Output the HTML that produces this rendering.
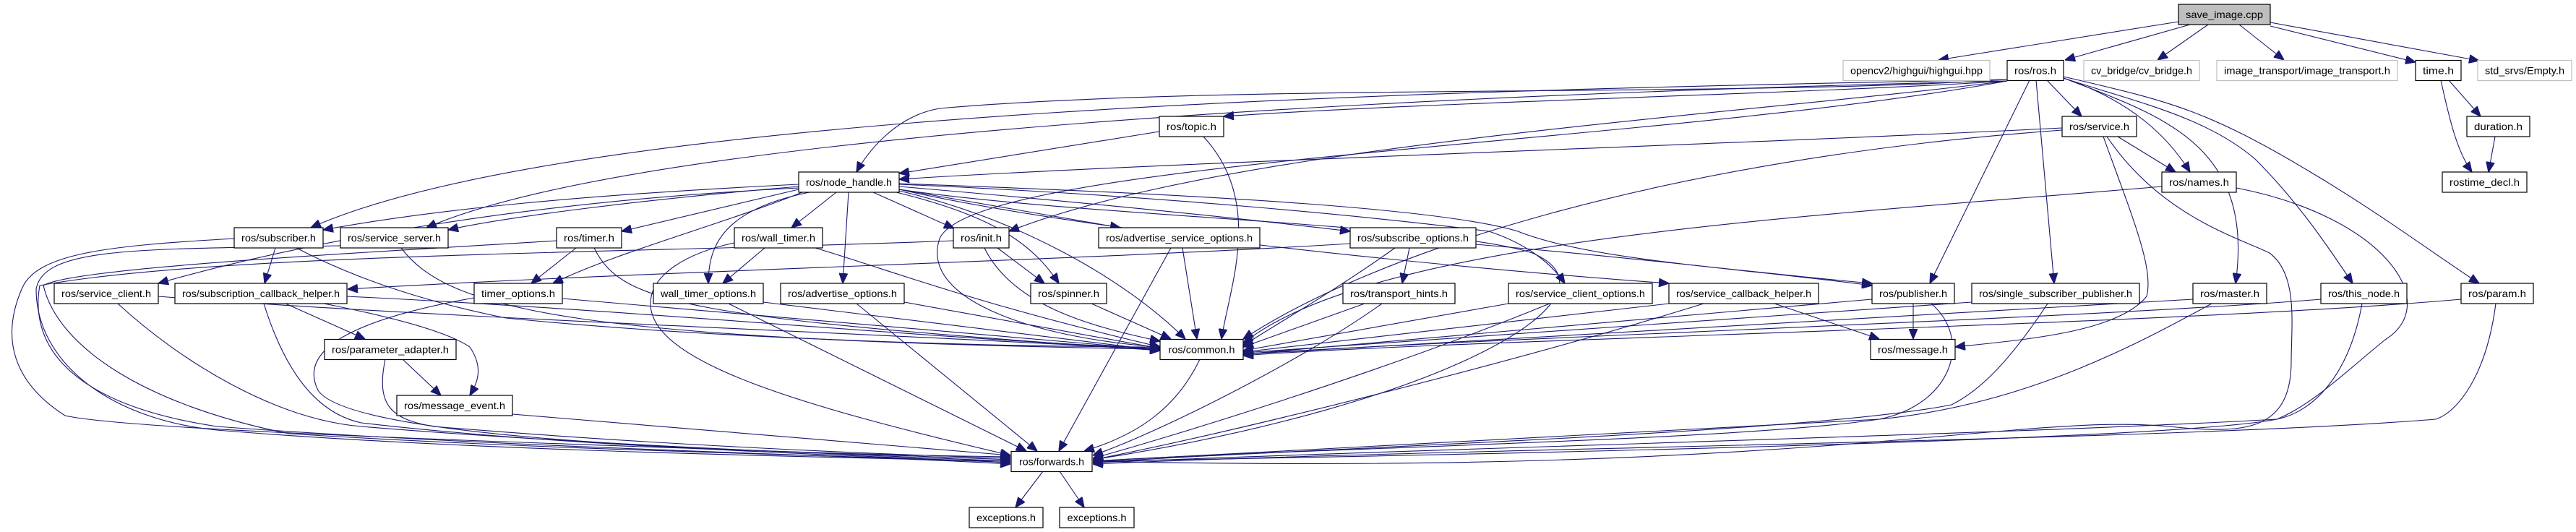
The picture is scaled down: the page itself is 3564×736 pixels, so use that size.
<!DOCTYPE html>
<html><head><meta charset="utf-8"><style>
html,body{margin:0;padding:0;background:#fff;}
svg{display:block;}
text{font-family:"Liberation Sans","DejaVu Sans",sans-serif;font-size:14px;fill:#000;}
.n rect{fill:#fff;stroke:#000;stroke-width:1.2;}
.g rect{fill:#fff;stroke:#bfbfbf;stroke-width:1.2;}
.r rect{fill:#bfbfbf;stroke:#000;stroke-width:1.2;}
path{fill:none;stroke:#191970;stroke-width:1.1;}
</style></head><body>
<svg width="3564" height="736" viewBox="0 0 3564 736" xmlns="http://www.w3.org/2000/svg">
<defs><marker id="a" markerUnits="userSpaceOnUse" markerWidth="14" markerHeight="12" refX="12" refY="5" orient="auto" viewBox="0 0 12 10"><path d="M0,0 L12,5 L0,10 Z" style="fill:#191970;stroke:#191970"/></marker></defs>
<g marker-end="url(#a)">
<path d="M3014,30 L2682,83"/>
<path d="M3030,34 L2857,83"/>
<path d="M3055,34 L2985,83"/>
<path d="M3098,34 L3160,83"/>
<path d="M3141,36 L3342,86"/>
<path d="M3141,31 L3430,84"/>
<path d="M3388,111 L3432,161"/>
<path d="M3377,111 C3390,170 3400,210 3420,238"/>
<path d="M3452,189 L3443,238"/>
<path d="M2832,111 L2880,161"/>
<path d="M2855,108 C2950,140 3000,190 3030,238"/>
<path d="M2817,111 L2842,392"/>
<path d="M2855,108 C2990,160 3120,200 3093,392"/>
<path d="M2855,108 C2950,140 3050,160 3120,220 C3180,280 3220,340 3255,392"/>
<path d="M2855,106 C3000,140 3050,150 3200,240 C3300,300 3380,360 3430,392"/>
<path d="M2808,111 L2670,392"/>
<path d="M2777,112 C2500,130 2000,140 1693,161"/>
<path d="M2777,110 C2400,135 1700,115 1300,150 C1240,160 1200,210 1185,238"/>
<path d="M2777,110 C2000,125 800,150 430,315"/>
<path d="M2777,112 C2000,130 900,180 590,315"/>
<path d="M2777,112 C2400,160 1700,200 1396,320"/>
<path d="M2777,112 C2300,200 1350,220 1300,330 C1270,420 1450,470 1605,480"/>
<path d="M1604,182 L1244,240"/>
<path d="M1665,189 C1750,280 1700,400 1690,469"/>
<path d="M2853,177 C2400,200 1600,225 1244,248"/>
<path d="M2930,189 L3010,238"/>
<path d="M2853,180 C2300,220 1900,350 1720,469"/>
<path d="M2910,189 C2950,300 2980,370 2970,410 C2930,460 2800,470 2705,480"/>
<path d="M2915,189 C2990,300 3100,330 3140,350 C3180,380 3170,450 3170,500 C3170,600 3100,600 3000,590 C2800,570 2500,660 1512,638"/>
<path d="M2991,258 C2500,300 1900,330 1720,475"/>
<path d="M3094,260 C3300,300 3380,420 3300,470 C3250,510 3200,560 3150,580 C3000,610 2000,630 1512,638"/>
<path d="M1105,255 C800,270 600,290 447,318"/>
<path d="M1105,258 C900,275 700,300 620,318"/>
<path d="M1105,262 L860,320"/>
<path d="M1157,266 L1095,315"/>
<path d="M1120,266 C1000,290 980,340 980,392"/>
<path d="M1174,266 L1166,392"/>
<path d="M1208,266 L1320,316"/>
<path d="M1240,266 C1380,300 1430,340 1465,392"/>
<path d="M1244,264 C1400,300 1550,380 1640,469"/>
<path d="M1244,262 L1550,315"/>
<path d="M1244,258 C1500,280 1700,300 1868,320"/>
<path d="M1244,255 C1600,270 1900,300 2060,320 C2120,340 2150,370 2165,392"/>
<path d="M1244,254 C1700,270 2000,290 2100,320 C2200,360 2400,370 2590,395"/>
<path d="M1244,262 C1500,320 2000,370 2309,392"/>
<path d="M1244,262 C1500,300 2000,310 2120,350 C2260,410 2000,560 1512,636"/>
<path d="M1105,260 C700,280 400,340 219,392"/>
<path d="M1868,337 C1500,360 900,375 481,400"/>
<path d="M1110,266 C1000,310 850,350 765,392"/>
<path d="M381,343 L366,392"/>
<path d="M410,343 C500,390 600,420 700,440 C1000,470 1400,480 1605,480"/>
<path d="M324,330 C150,340 50,350 30,400 C0,470 20,530 90,575 C200,600 1000,620 1398,636"/>
<path d="M555,343 C620,430 800,470 1605,483"/>
<path d="M471,340 C200,345 60,340 50,400 C50,500 150,580 300,595 C600,620 1000,630 1398,638"/>
<path d="M797,343 L735,392"/>
<path d="M822,343 C860,420 950,440 1605,485"/>
<path d="M770,333 C500,350 100,370 60,395 C80,480 200,560 400,600 C800,625 1200,630 1398,640"/>
<path d="M1058,343 L1000,392"/>
<path d="M1128,343 C1250,380 1350,420 1605,480"/>
<path d="M1016,336 C950,350 900,380 900,420 C900,500 1100,560 1398,630"/>
<path d="M1380,343 L1445,392"/>
<path d="M1362,343 C1400,420 1500,450 1605,472"/>
<path d="M1319,333 C900,350 300,350 55,395 C40,480 100,560 300,590 C700,620 1200,630 1398,642"/>
<path d="M1636,343 L1656,469"/>
<path d="M1620,343 L1465,624"/>
<path d="M1950,343 L1940,392"/>
<path d="M1930,343 C1850,400 1780,440 1720,478"/>
<path d="M2042,338 C2300,360 2450,380 2590,392"/>
<path d="M1888,420 L1720,480"/>
<path d="M1912,420 C1800,500 1600,600 1512,630"/>
<path d="M2087,420 L1720,485"/>
<path d="M2144,420 C1900,520 1600,610 1512,634"/>
<path d="M2309,420 L1720,487"/>
<path d="M2455,420 L2600,469"/>
<path d="M2357,420 C2100,500 1700,600 1512,636"/>
<path d="M2647,420 L2647,469"/>
<path d="M2590,414 L1720,490"/>
<path d="M2672,420 C2730,470 2700,560 2600,580 C2400,610 1800,620 1512,638"/>
<path d="M2833,420 C2780,500 2740,540 2700,560 C2500,600 1800,620 1512,640"/>
<path d="M2728,418 L1720,488"/>
<path d="M3034,414 L1720,490"/>
<path d="M3060,420 C2950,480 2800,560 2600,580 L1512,638"/>
<path d="M3211,414 C2900,440 2000,470 1720,490"/>
<path d="M3268,420 C3250,520 3200,570 3150,580 C2800,600 2000,620 1512,640"/>
<path d="M3405,414 C3000,450 2000,470 1720,492"/>
<path d="M3453,420 C3440,520 3400,570 3370,580 C3000,610 2000,620 1512,642"/>
<path d="M1660,497 C1630,560 1580,600 1500,624"/>
<path d="M1443,652 L1405,702"/>
<path d="M1466,652 L1500,702"/>
<path d="M395,420 L505,469"/>
<path d="M448,420 C550,440 620,460 650,480 C670,510 660,530 650,547"/>
<path d="M365,420 C390,500 430,570 500,585 C800,620 1200,630 1398,640"/>
<path d="M480,410 C900,430 1300,470 1605,482"/>
<path d="M219,410 C600,440 1200,460 1605,484"/>
<path d="M163,420 C250,500 380,580 500,590 C800,615 1200,630 1398,638"/>
<path d="M557,497 L610,547"/>
<path d="M533,497 C520,560 540,580 600,590 C900,615 1200,628 1398,634"/>
<path d="M709,573 L1398,630"/>
<path d="M778,413 L1605,484"/>
<path d="M656,412 C500,440 410,480 440,540 C480,600 900,625 1398,632"/>
<path d="M1056,418 L1605,485"/>
<path d="M1008,420 L1420,624"/>
<path d="M1251,418 L1605,482"/>
<path d="M1185,420 L1435,624"/>
<path d="M1510,420 L1620,469"/>
</g>
<g class="r"><rect x="3014" y="6" width="127" height="28"/><text x="3077.5" y="25" text-anchor="middle" textLength="107" lengthAdjust="spacingAndGlyphs">save_image.cpp</text></g>
<g class="g"><rect x="2550" y="83.5" width="203" height="28"/><text x="2651.5" y="102.5" text-anchor="middle" textLength="183" lengthAdjust="spacingAndGlyphs">opencv2/highgui/highgui.hpp</text></g>
<g class="n"><rect x="2777" y="83.5" width="78" height="28"/><text x="2816" y="102.5" text-anchor="middle" textLength="58" lengthAdjust="spacingAndGlyphs">ros/ros.h</text></g>
<g class="g"><rect x="2883" y="83.5" width="160" height="28"/><text x="2963" y="102.5" text-anchor="middle" textLength="140" lengthAdjust="spacingAndGlyphs">cv_bridge/cv_bridge.h</text></g>
<g class="g"><rect x="3067" y="83.5" width="250" height="28"/><text x="3192" y="102.5" text-anchor="middle" textLength="230" lengthAdjust="spacingAndGlyphs">image_transport/image_transport.h</text></g>
<g class="n"><rect x="3342" y="83.5" width="63" height="28"/><text x="3373.5" y="102.5" text-anchor="middle" textLength="43" lengthAdjust="spacingAndGlyphs">time.h</text></g>
<g class="g"><rect x="3428" y="83.5" width="130" height="28"/><text x="3493" y="102.5" text-anchor="middle" textLength="110" lengthAdjust="spacingAndGlyphs">std_srvs/Empty.h</text></g>
<g class="n"><rect x="1604" y="161" width="89" height="28"/><text x="1648.5" y="180" text-anchor="middle" textLength="69" lengthAdjust="spacingAndGlyphs">ros/topic.h</text></g>
<g class="n"><rect x="2853" y="161" width="103" height="28"/><text x="2904.5" y="180" text-anchor="middle" textLength="83" lengthAdjust="spacingAndGlyphs">ros/service.h</text></g>
<g class="n"><rect x="3413" y="161" width="87" height="28"/><text x="3456.5" y="180" text-anchor="middle" textLength="67" lengthAdjust="spacingAndGlyphs">duration.h</text></g>
<g class="n"><rect x="1105" y="238" width="139" height="28"/><text x="1174.5" y="257" text-anchor="middle" textLength="119" lengthAdjust="spacingAndGlyphs">ros/node_handle.h</text></g>
<g class="n"><rect x="2991" y="238" width="103" height="28"/><text x="3042.5" y="257" text-anchor="middle" textLength="83" lengthAdjust="spacingAndGlyphs">ros/names.h</text></g>
<g class="n"><rect x="3379" y="238" width="117" height="28"/><text x="3437.5" y="257" text-anchor="middle" textLength="97" lengthAdjust="spacingAndGlyphs">rostime_decl.h</text></g>
<g class="n"><rect x="324" y="315" width="123" height="28"/><text x="385.5" y="334" text-anchor="middle" textLength="103" lengthAdjust="spacingAndGlyphs">ros/subscriber.h</text></g>
<g class="n"><rect x="471" y="315" width="149" height="28"/><text x="545.5" y="334" text-anchor="middle" textLength="129" lengthAdjust="spacingAndGlyphs">ros/service_server.h</text></g>
<g class="n"><rect x="770" y="315" width="90" height="28"/><text x="815" y="334" text-anchor="middle" textLength="70" lengthAdjust="spacingAndGlyphs">ros/timer.h</text></g>
<g class="n"><rect x="1016" y="315" width="122" height="28"/><text x="1077" y="334" text-anchor="middle" textLength="102" lengthAdjust="spacingAndGlyphs">ros/wall_timer.h</text></g>
<g class="n"><rect x="1319" y="315" width="77" height="28"/><text x="1357.5" y="334" text-anchor="middle" textLength="57" lengthAdjust="spacingAndGlyphs">ros/init.h</text></g>
<g class="n"><rect x="1520" y="315" width="223" height="28"/><text x="1631.5" y="334" text-anchor="middle" textLength="203" lengthAdjust="spacingAndGlyphs">ros/advertise_service_options.h</text></g>
<g class="n"><rect x="1868" y="315" width="174" height="28"/><text x="1955" y="334" text-anchor="middle" textLength="154" lengthAdjust="spacingAndGlyphs">ros/subscribe_options.h</text></g>
<g class="n"><rect x="75" y="392" width="144" height="28"/><text x="147" y="411" text-anchor="middle" textLength="124" lengthAdjust="spacingAndGlyphs">ros/service_client.h</text></g>
<g class="n"><rect x="242" y="392" width="238" height="28"/><text x="361" y="411" text-anchor="middle" textLength="218" lengthAdjust="spacingAndGlyphs">ros/subscription_callback_helper.h</text></g>
<g class="n"><rect x="656" y="392" width="122" height="28"/><text x="717" y="411" text-anchor="middle" textLength="102" lengthAdjust="spacingAndGlyphs">timer_options.h</text></g>
<g class="n"><rect x="904" y="392" width="152" height="28"/><text x="980" y="411" text-anchor="middle" textLength="132" lengthAdjust="spacingAndGlyphs">wall_timer_options.h</text></g>
<g class="n"><rect x="1080" y="392" width="171" height="28"/><text x="1165.5" y="411" text-anchor="middle" textLength="151" lengthAdjust="spacingAndGlyphs">ros/advertise_options.h</text></g>
<g class="n"><rect x="1426" y="392" width="105" height="28"/><text x="1478.5" y="411" text-anchor="middle" textLength="85" lengthAdjust="spacingAndGlyphs">ros/spinner.h</text></g>
<g class="n"><rect x="1858" y="392" width="155" height="28"/><text x="1935.5" y="411" text-anchor="middle" textLength="135" lengthAdjust="spacingAndGlyphs">ros/transport_hints.h</text></g>
<g class="n"><rect x="2087" y="392" width="199" height="28"/><text x="2186.5" y="411" text-anchor="middle" textLength="179" lengthAdjust="spacingAndGlyphs">ros/service_client_options.h</text></g>
<g class="n"><rect x="2309" y="392" width="207" height="28"/><text x="2412.5" y="411" text-anchor="middle" textLength="187" lengthAdjust="spacingAndGlyphs">ros/service_callback_helper.h</text></g>
<g class="n"><rect x="2590" y="392" width="114" height="28"/><text x="2647" y="411" text-anchor="middle" textLength="94" lengthAdjust="spacingAndGlyphs">ros/publisher.h</text></g>
<g class="n"><rect x="2728" y="392" width="232" height="28"/><text x="2844" y="411" text-anchor="middle" textLength="212" lengthAdjust="spacingAndGlyphs">ros/single_subscriber_publisher.h</text></g>
<g class="n"><rect x="3034" y="392" width="102" height="28"/><text x="3085" y="411" text-anchor="middle" textLength="82" lengthAdjust="spacingAndGlyphs">ros/master.h</text></g>
<g class="n"><rect x="3211" y="392" width="119" height="28"/><text x="3270.5" y="411" text-anchor="middle" textLength="99" lengthAdjust="spacingAndGlyphs">ros/this_node.h</text></g>
<g class="n"><rect x="3405" y="392" width="100" height="28"/><text x="3455" y="411" text-anchor="middle" textLength="80" lengthAdjust="spacingAndGlyphs">ros/param.h</text></g>
<g class="n"><rect x="449" y="469.5" width="182" height="28"/><text x="540" y="488.5" text-anchor="middle" textLength="162" lengthAdjust="spacingAndGlyphs">ros/parameter_adapter.h</text></g>
<g class="n"><rect x="1605" y="469.5" width="115" height="28"/><text x="1662.5" y="488.5" text-anchor="middle" textLength="92" lengthAdjust="spacingAndGlyphs">ros/common.h</text></g>
<g class="n"><rect x="2588" y="469.5" width="117" height="28"/><text x="2646.5" y="488.5" text-anchor="middle" textLength="97" lengthAdjust="spacingAndGlyphs">ros/message.h</text></g>
<g class="n"><rect x="549" y="547" width="160" height="28"/><text x="629" y="566" text-anchor="middle" textLength="140" lengthAdjust="spacingAndGlyphs">ros/message_event.h</text></g>
<g class="n"><rect x="1399" y="624.5" width="112" height="28"/><text x="1455" y="643.5" text-anchor="middle" textLength="90" lengthAdjust="spacingAndGlyphs">ros/forwards.h</text></g>
<g class="n"><rect x="1341" y="702" width="102" height="28"/><text x="1392" y="721" text-anchor="middle" textLength="82" lengthAdjust="spacingAndGlyphs">exceptions.h</text></g>
<g class="n"><rect x="1466" y="702" width="103" height="28"/><text x="1517.5" y="721" text-anchor="middle" textLength="82" lengthAdjust="spacingAndGlyphs">exceptions.h</text></g>
</svg>
</body></html>
